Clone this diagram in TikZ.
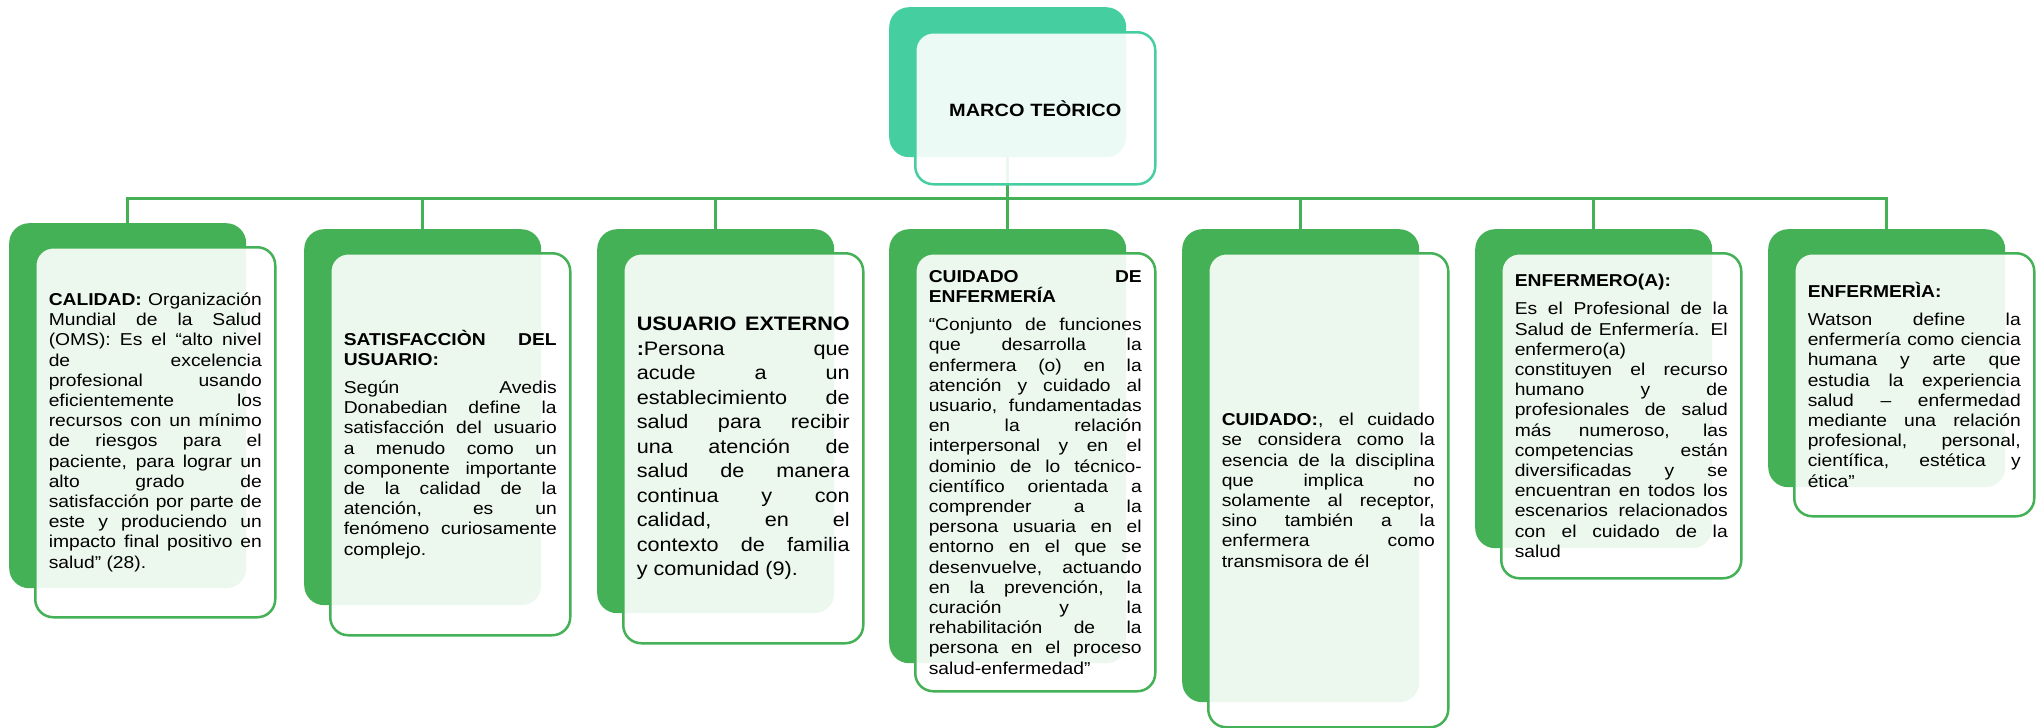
\documentclass[tikz,border=0pt]{standalone}
\usepackage{fontspec}
\setmainfont{Liberation Sans}[FakeStretch=1.12]
\newfontfamily\widesans{Liberation Sans}[FakeStretch=1.11]
\usepackage{tikz}
\usetikzlibrary{positioning}
\definecolor{cgreen}{HTML}{45B156}
\definecolor{cteal}{HTML}{45CFA0}
\hyphenpenalty=10000
\tolerance=9999
\emergencystretch=20pt
\newcommand{\nlb}{\linebreak}

\begin{document}
\begin{tikzpicture}[x=1pt,y=-1pt]
\tikzstyle{every node}=[font=\fontsize{17.2}{20.2}\selectfont, inner sep=0pt]
\tikzstyle{backbox}=[fill=cgreen, rounded corners=20pt, minimum width=237pt, anchor=north west]
\tikzstyle{frontbox}=[draw=cgreen, line width=2.5pt, fill=white, fill opacity=0.9, text opacity=1, rounded corners=18pt, minimum width=240pt, text width=213pt, align=justify]
\tikzstyle{link}=[cgreen, line width=3pt]
\useasboundingbox (0,0) rectangle (2040,728);

% back boxes
\node[backbox, fill=cteal, minimum height=150pt] (tb) at (889,7) {};
\node[backbox, minimum height=365pt] (b1) at (9,223) {};
\node[backbox, minimum height=376pt] (b2) at (304,229) {};
\node[backbox, minimum height=384pt] (b3) at (597,229) {};
\node[backbox, minimum height=434pt] (b4) at (889,229) {};
\node[backbox, minimum height=473pt] (b5) at (1182,229) {};
\node[backbox, minimum height=319pt] (b6) at (1475,229) {};
\node[backbox, minimum height=258pt] (b7) at (1768,229) {};

% connectors
\foreach \n in {1,...,7}
  \draw[link] (tb.south) -- ++(0,41) -| (b\n.north);

% front boxes
\node[frontbox, draw=cteal, minimum height=152pt, align=center, font=\fontsize{17.8}{22}\selectfont\bfseries,
  below right=24pt and 25pt of tb.north west] (marco) {MARCO TEÒRICO};
\node[frontbox, minimum height=370pt, below right=23pt and 25pt of b1.north west] (calidad)
  {\textbf{CALIDAD:} Organización\nlb Mundial de la Salud\nlb (OMS): Es el “alto nivel\nlb de excelencia\nlb profesional usando\nlb eficientemente los\nlb recursos con un mínimo\nlb de riesgos para el\nlb paciente, para lograr un\nlb alto grado de\nlb satisfacción por parte de\nlb este y produciendo un\nlb impacto final positivo en\nlb salud” (28).};
\node[frontbox, minimum height=382pt, below right=23pt and 25pt of b2.north west] (satisf)
  {\textbf{SATISFACCIÒN DEL\nlb USUARIO:}\par\vspace{8pt}Según Avedis\nlb Donabedian define la\nlb satisfacción del usuario\nlb a menudo como un\nlb componente importante\nlb de la calidad de la\nlb atención, es un\nlb fenómeno curiosamente\nlb complejo.};
\node[frontbox, minimum height=390pt, font=\widesans\fontsize{19.5}{24.5}\selectfont, below right=23pt and 25pt of b3.north west] (usuario)
  {\textbf{USUARIO EXTERNO\nlb :}Persona que\nlb acude a un\nlb establecimiento de\nlb salud para recibir\nlb una atención de\nlb salud de manera\nlb continua y con\nlb calidad, en el\nlb contexto de familia\nlb y comunidad (9).};
\node[frontbox, minimum height=438pt, below right=23pt and 25pt of b4.north west] (cuidenf)
  {\textbf{CUIDADO DE\nlb ENFERMERÍA}\par\vspace{8pt}“Conjunto de funciones\nlb que desarrolla la\nlb enfermera (o) en la\nlb atención y cuidado al\nlb usuario, fundamentadas\nlb en la relación\nlb interpersonal y en el\nlb dominio de lo técnico-\nlb científico orientada a\nlb comprender a la\nlb persona usuaria en el\nlb entorno en el que se\nlb desenvuelve, actuando\nlb en la prevención, la\nlb curación y la\nlb rehabilitación de la\nlb persona en el proceso\nlb salud-enfermedad”};
\node[frontbox, minimum height=474pt, below right=23pt and 25pt of b5.north west] (cuidado)
  {\textbf{CUIDADO:}, el cuidado\nlb se considera como la\nlb esencia de la disciplina\nlb que implica no\nlb solamente al receptor,\nlb sino también a la\nlb enfermera como\nlb transmisora de él};
\node[frontbox, minimum height=325pt, below right=23pt and 25pt of b6.north west] (enfermero)
  {\textbf{ENFERMERO(A):}\par\vspace{8pt}Es el Profesional de la\nlb Salud de Enfermería. El\nlb enfermero(a)\newline constituyen el recurso\nlb humano y de\nlb profesionales de salud\nlb más numeroso, las\nlb competencias están\nlb diversificadas y se\nlb encuentran en todos los\nlb escenarios relacionados\nlb con el cuidado de la\nlb salud};
\node[frontbox, minimum height=263pt, below right=23pt and 25pt of b7.north west] (enfermeria)
  {\textbf{ENFERMERÌA:}\par\vspace{8pt}Watson define la\nlb enfermería como ciencia\nlb humana y arte que\nlb estudia la experiencia\nlb salud – enfermedad\nlb mediante una relación\nlb profesional, personal,\nlb científica, estética y\nlb ética”};
\end{tikzpicture}
\end{document}
